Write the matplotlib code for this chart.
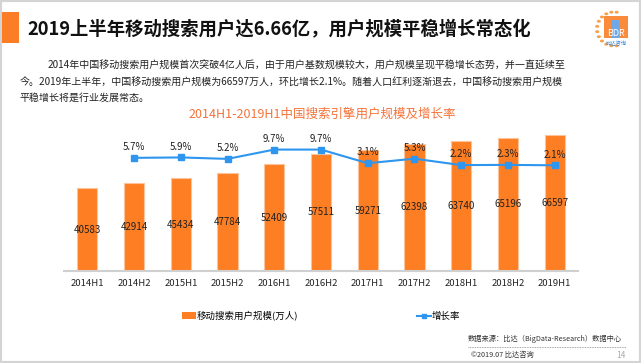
import numpy as np
import matplotlib.pyplot as plt
from matplotlib.patches import Rectangle, Patch
from matplotlib.lines import Line2D

plt.rcParams['font.family'] = ['Noto Sans CJK SC', 'DejaVu Sans']

periods = ['2014H1', '2014H2', '2015H1', '2015H2', '2016H1', '2016H2',
           '2017H1', '2017H2', '2018H1', '2018H2', '2019H1']
users = [40583, 42914, 45434, 47784, 52409, 57511, 59271, 62398, 63740, 65196, 66597]
growth = [np.nan, 5.7, 5.9, 5.2, 9.7, 9.7, 3.1, 5.3, 2.2, 2.3, 2.1]

W, H = 641, 363
ORANGE = '#FD7E23'
BLUE = '#2E96EE'


def fx(px):
    return px / W


def fy(py):
    return 1 - py / H


fig = plt.figure(figsize=(W / 100, H / 100), dpi=100)
fig.patch.set_facecolor('white')

# slide frame
fig.patches.append(Rectangle((0, 0), 1, 1, transform=fig.transFigure, fill=False,
                             edgecolor='#d4d4d4', linewidth=3))
fig.patches.append(Rectangle((fx(2), fy(43)), fx(17), 31 / H, transform=fig.transFigure,
                             facecolor='#FB7D25', edgecolor='none'))

fig.text(fx(27), fy(29), '2019上半年移动搜索用户达6.66亿，用户规模平稳增长常态化',
         fontsize=13.2, fontweight='bold', va='center', ha='left', color='#111111')

body = ['2014年中国移动搜索用户规模首次突破4亿人后，由于用户基数规模较大，用户规模呈现平稳增长态势，并一直延续至',
        '今。2019年上半年，中国移动搜索用户规模为66597万人，环比增长2.1%。随着人口红利逐渐退去，中国移动搜索用户规模',
        '平稳增长将是行业发展常态。']
fig.text(fx(48), fy(66), body[0], fontsize=7.2, va='center', ha='left', color='#222222')
fig.text(fx(20), fy(82), body[1], fontsize=7.2, va='center', ha='left', color='#222222')
fig.text(fx(20), fy(98), body[2], fontsize=7.2, va='center', ha='left', color='#222222')

# logo
ang = np.linspace(np.pi * 0.45, np.pi * 1.55, 12)
for a in ang:
    fig.patches.append(plt.Circle((fx(614 + 17 * np.cos(a)), fy(29 - 17 * np.sin(a))), 1.3 / W,
                                  transform=fig.transFigure, color='#F7A04A'))
fig.patches.append(Rectangle((fx(604), fy(38)), fx(24), 22 / H, transform=fig.transFigure,
                             facecolor='#F98B3A', edgecolor='none'))
fig.patches.append(Rectangle((fx(611), fy(38)), fx(8), 18 / H, transform=fig.transFigure,
                             facecolor='#6FA8E6', edgecolor='none'))
fig.text(fx(616), fy(33), 'BDR', fontsize=6.5, color='white', ha='center', va='center')
fig.text(fx(616), fy(43), '比达咨询', fontsize=3.8, color='#3A86D8', ha='center', va='center')

fig.text(fx(322), fy(114), '2014H1-2019H1中国搜索引擎用户规模及增长率', fontsize=9,
         color='#F4743B', ha='center', va='center')

# chart
ax = fig.add_axes([fx(64), fy(271), fx(578 - 64), (271 - 120) / H])
x = np.arange(len(periods))
ax.bar(x, users, width=0.43, color=ORANGE, edgecolor='#FBC49A', linewidth=0.8, zorder=2)
for xi, v in zip(x, users):
    ax.text(xi, v / 2, str(v), ha='center', va='center', fontsize=7, color='#222222', zorder=5)
ax.set_xlim(-0.5, len(periods) - 0.5)
ax.set_ylim(0, 74000)
ax.set_xticks(x)
ax.set_xticklabels(periods, fontsize=6.8, color='#222222')
ax.tick_params(axis='x', length=0, pad=6)
ax.set_yticks([])
for s in ['top', 'right', 'left']:
    ax.spines[s].set_visible(False)
ax.spines['bottom'].set_color('#d0d0d0')
ax.spines['bottom'].set_linewidth(1.5)

ax2 = ax.twinx()
ax2.plot(x, growth, color=BLUE, lw=1.5, marker='s', markersize=4, zorder=4)
for xi, g in zip(x, growth):
    if not np.isnan(g):
        ax2.text(xi, g + 5.2, f'{g}%', ha='center', va='center', fontsize=7, color='#222222')
ax2.set_ylim(-49, 24)
ax2.set_yticks([])
for s in ax2.spines.values():
    s.set_visible(False)

handles = [Patch(facecolor=ORANGE, edgecolor='none'),
           Line2D([], [], color=BLUE, lw=1.5, marker='s', markersize=3)]
fig.legend(handles, ['移动搜索用户规模(万人)', '增长率'], loc='center',
           bbox_to_anchor=(fx(321), fy(316)), ncol=2, frameon=False, fontsize=6.8,
           handlelength=1.5, handletextpad=0.1, columnspacing=12.5)

fig.text(fx(468), fy(339), '数据来源：比达（BigData-Research）数据中心', fontsize=5.2,
         color='#333333', ha='left', va='center')
fig.add_artist(Line2D([fx(468), fx(626)], [fy(347), fy(347)], transform=fig.transFigure,
                      color='#888888', lw=0.6, ls=(0, (1, 1))))
fig.text(fx(471), fy(355), '©2019.07 比达咨询', fontsize=5.2, color='#333333', ha='left', va='center')
fig.text(fx(626), fy(355), '14', fontsize=6, color='#aaaaaa', ha='right', va='center')

fig.savefig('out.png', dpi=100)
